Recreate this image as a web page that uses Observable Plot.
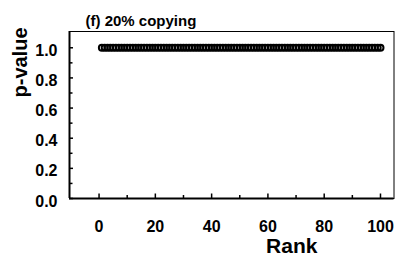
<!DOCTYPE html>
<html>
<head>
<meta charset="utf-8">
<script src="https://cdn.jsdelivr.net/npm/d3@7"></script>
<script src="https://cdn.jsdelivr.net/npm/@observablehq/plot@0.6"></script>
<style>
  html, body { margin: 0; padding: 0; background: #fff; }
  svg { display: block; }
</style>
</head>
<body>
<div id="chart"></div>
<script>
// Data
const ranks = d3.range(1, 101);
const pValues = ranks.map(() => 1.0);
const xTicksMajor = [0, 20, 40, 60, 80, 100];
const xTicksMinor = [10, 30, 50, 70, 90];
const yTicksMajor = [0, 0.2, 0.4, 0.6, 0.8, 1.0];
const yTicksMinor = [0.1, 0.3, 0.5, 0.7, 0.9];
const titleText = "(f) 20% copying";
const xLabel = "Rank";
const yLabel = "p-value";

const W = 395, H = 266;
const mL = 69, mR = 1.5, mT = 31, mB = 68;
const plotW = W - mL - mR, plotH = H - mT - mB;
const xDomain = [-10.5, 104.8];
const yDomain = [0, 1.108];

const data = ranks.map((r, i) => ({rank: r, p: pValues[i]}));
const font = "'Liberation Sans', Arial, Helvetica, sans-serif";

const chart = Plot.plot({
  width: W, height: H,
  marginLeft: mL, marginRight: mR, marginTop: mT, marginBottom: mB,
  style: {fontFamily: font, background: "#fff", color: "#000"},
  x: {domain: xDomain},
  y: {domain: yDomain},
  marks: [
    Plot.frame({stroke: "#000", strokeWidth: 1}),
    Plot.ruleY([0], {stroke: "#000", strokeWidth: 2}),
    Plot.ruleX([xDomain[0]], {stroke: "#000", strokeWidth: 2}),
    Plot.tickX(xTicksMajor, {x: d => d, stroke: "#000", strokeWidth: 1.5, insetTop: plotH - 4.5}),
    Plot.tickX(xTicksMinor, {x: d => d, stroke: "#000", strokeWidth: 1.5, insetTop: plotH - 3}),
    Plot.tickY(yTicksMajor, {y: d => d, stroke: "#000", strokeWidth: 1.5, insetRight: plotW - 4}),
    Plot.tickY(yTicksMinor, {y: d => d, stroke: "#000", strokeWidth: 1.5, insetRight: plotW - 3.5}),
    Plot.axisX({ticks: xTicksMajor, tickSize: 0, tickPadding: 22, fontSize: 16, fontWeight: "bold", label: null, tickFormat: d3.format("d")}),
    Plot.axisY({ticks: yTicksMajor, tickSize: 0, tickPadding: 12, fontSize: 16, fontWeight: "bold", label: null, dy: 3, tickFormat: d3.format(".1f")}),
    Plot.dot(data, {x: "rank", y: "p", r: 3, stroke: "#000", strokeWidth: 2, fill: "none"}),
    Plot.text([yLabel], {text: d => d, frameAnchor: "left", dx: -49, dy: -17.5, rotate: -90, fontSize: 20, fontWeight: "bold"}),
    Plot.text([xLabel], {text: d => d, frameAnchor: "bottom", dx: 60, dy: 54, fontSize: 21, fontWeight: "bold"}),
    Plot.text([titleText], {text: d => d, frameAnchor: "top-left", textAnchor: "start", dx: 16, dy: -16, fontSize: 15, fontWeight: "bold"})
  ]
});
document.getElementById("chart").appendChild(chart);
</script>
</body>
</html>
